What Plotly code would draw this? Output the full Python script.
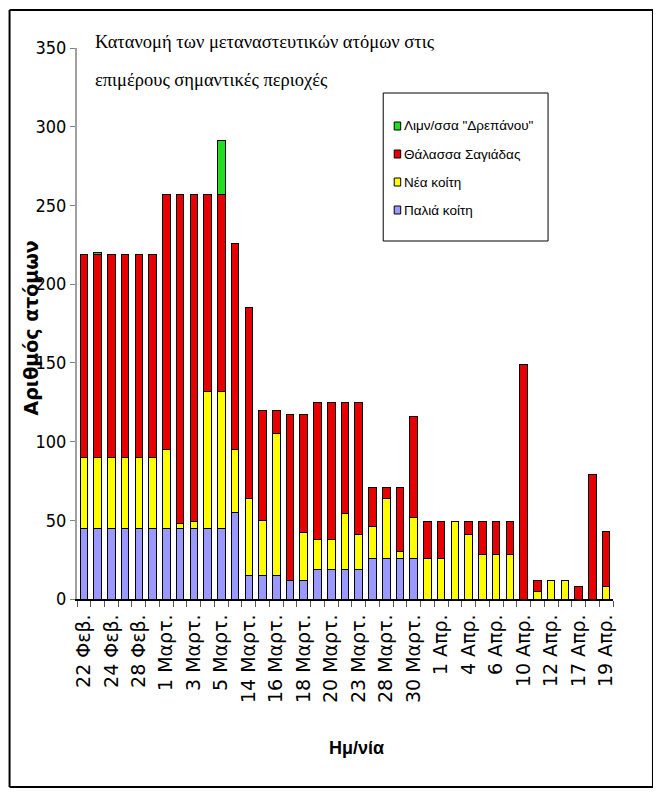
import plotly.graph_objects as go

# ---- data ----
tick_labels = ["22 Φεβ.", "24 Φεβ.", "28 Φεβ.", "1 Μαρτ.", "3 Μαρτ.", "5 Μαρτ.",
               "14 Μαρτ.", "16 Μαρτ.", "18 Μαρτ.", "20 Μαρτ.", "23 Μαρτ.", "28 Μαρτ.",
               "30 Μαρτ.", "1 Απρ.", "4 Απρ.", "6 Απρ.", "10 Απρ.", "12 Απρ.",
               "17 Απρ.", "19 Απρ."]
n_bars = 39
bar_index = list(range(n_bars))

palia_koiti = [45, 45, 45, 45, 45, 45, 45, 45, 45, 45, 45, 55, 15, 15, 15, 12, 12, 19, 19, 19,
               19, 26, 26, 26, 26, 0, 0, 0, 0, 0, 0, 0, 0, 0, 0, 0, 0, 0, 0]
nea_koiti = [45, 45, 45, 45, 45, 45, 50, 3, 4, 87, 87, 40, 49, 35, 90, 0, 30, 19, 19, 35,
             22, 20, 38, 4, 26, 26, 26, 49, 41, 28, 28, 28, 0, 5, 12, 12, 0, 0, 8]
thalassa_sagiadas = [129, 129, 129, 129, 129, 129, 162, 209, 208, 125, 125, 131, 121, 70, 15,
                     105, 75, 87, 87, 71, 84, 25, 7, 41, 64, 23, 23, 0, 8, 21, 21, 21, 149,
                     7, 0, 0, 8, 79, 35]
limnothalassa_drepanou = [0, 1, 0, 0, 0, 0, 0, 0, 0, 0, 34, 0, 0, 0, 0, 0, 0, 0, 0, 0,
                          0, 0, 0, 0, 0, 0, 0, 0, 0, 0, 0, 0, 0, 0, 0, 0, 0, 0, 0]

series = [
    ("Παλιά κοίτη", palia_koiti, "#9999FF"),
    ("Νέα κοίτη", nea_koiti, "#FFFF00"),
    ("Θάλασσα Σαγιάδας", thalassa_sagiadas, "#E60000"),
    ('Λιμν/σσα "Δρεπάνου"', limnothalassa_drepanou, "#22DD22"),
]

fig = go.Figure()
for name, vals, col in series:
    fig.add_trace(go.Bar(
        x=bar_index, y=vals, name=name, showlegend=False,
        marker=dict(color=col, line=dict(color="black", width=1)),
        width=0.55,
    ))

# the page body adds an 8px offset, so the figure is shifted back by that much
OFF = 8
W, H = 661 - OFF - 4, 780
L, R, T, B = 76.5 - OFF, 613.0 - OFF, 48.0 - OFF, 599.0 - OFF
pw, ph = R - L, B - T

def px(x):
    return (x - OFF - L) / pw

def py(y):
    return (B - (y - OFF)) / ph

narrow = "Liberation Sans Narrow, DejaVu Sans Condensed, Arial Narrow, sans-serif"
legend_font = dict(family="Liberation Sans, Arial, sans-serif", size=13.5, color="black")

shapes = []
# outer frame
frame = dict(xref="paper", yref="paper", line=dict(color="black", width=2), layer="above")
fx0, fx1, fy0, fy1 = px(9), px(653), py(787), py(10)
shapes.append(dict(type="line", x0=fx0, x1=fx1, y0=fy1, y1=fy1, **frame))
shapes.append(dict(type="line", x0=fx0, x1=fx1, y0=fy0, y1=fy0, **frame))
shapes.append(dict(type="line", x0=fx0, x1=fx0, y0=fy0, y1=fy1, **frame))
shapes.append(dict(type="line", x0=fx1, x1=fx1, y0=fy0, y1=fy1, **frame))

# legend box (drawn by hand so that its spacing matches the reference)
shapes.append(dict(type="rect", xref="paper", yref="paper",
                   x0=px(383), x1=px(548), y0=py(241), y1=py(93),
                   line=dict(color="black", width=1), fillcolor="white", layer="above"))
legend_rows = [series[3], series[2], series[1], series[0]]
legend_y = [126, 154, 182, 210]
annotations = []
for (name, _vals, col), yy in zip(legend_rows, legend_y):
    shapes.append(dict(type="rect", xref="paper", yref="paper",
                       x0=px(394), x1=px(400.5), y0=py(yy + 4), y1=py(yy - 4),
                       line=dict(color="black", width=1), fillcolor=col, layer="above"))
    annotations.append(dict(text=name, xref="paper", yref="paper", x=px(402), y=py(yy),
                            xanchor="left", yanchor="middle", showarrow=False,
                            font=legend_font))

annotations += [
    dict(text="Κατανομή των μεταναστευτικών ατόμων στις", xref="paper", yref="paper",
         x=px(93), y=py(42), xanchor="left", yanchor="middle", showarrow=False,
         font=dict(family="Liberation Serif, Times New Roman, serif", size=18.5, color="black")),
    dict(text="επιμέρους σημαντικές περιοχές", xref="paper", yref="paper",
         x=px(93), y=py(80), xanchor="left", yanchor="middle", showarrow=False,
         font=dict(family="Liberation Serif, Times New Roman, serif", size=18.5, color="black")),
    dict(text="<b>Αριθμός ατόμων</b>", xref="paper", yref="paper",
         x=px(30), y=py(328), xanchor="center", yanchor="middle", textangle=-90,
         showarrow=False, font=dict(family="DejaVu Sans", size=19, color="black")),
    dict(text="<b>Ημ/νία</b>", xref="paper", yref="paper",
         x=px(356), y=py(748), xanchor="center", yanchor="middle",
         showarrow=False, font=dict(family="Liberation Sans, Arial, sans-serif", size=18, color="black")),
]

fig.update_layout(
    width=W, height=H,
    margin=dict(l=L, r=W - R, t=T, b=H - B, pad=0),
    barmode="stack",
    plot_bgcolor="white", paper_bgcolor="white",
    showlegend=False,
    xaxis=dict(
        range=[-0.5, n_bars - 0.5],
        tickmode="array",
        tickvals=bar_index[::2],
        ticktext=tick_labels,
        tickangle=-90,
        ticks="",
        ticklabelstandoff=6,
        tickfont=dict(family="DejaVu Sans", size=19, color="black"),
        showline=True, linecolor="black", linewidth=1.5,
        showgrid=False, zeroline=False,
        minor=dict(tickmode="linear", tick0=-0.5, dtick=1, ticks="outside",
                   ticklen=6, tickcolor="#555555", tickwidth=1, showgrid=False),
    ),
    yaxis=dict(
        range=[0, 350], dtick=50, tick0=0,
        ticks="outside", ticklen=5, tickcolor="#808080", tickwidth=1,
        showline=True, linecolor="#A0A0A0", linewidth=2,
        showgrid=False, zeroline=False,
        tickfont=dict(family=narrow, size=18, color="black"),
    ),
    shapes=shapes,
    annotations=annotations,
)

fig.write_html("out.html")
